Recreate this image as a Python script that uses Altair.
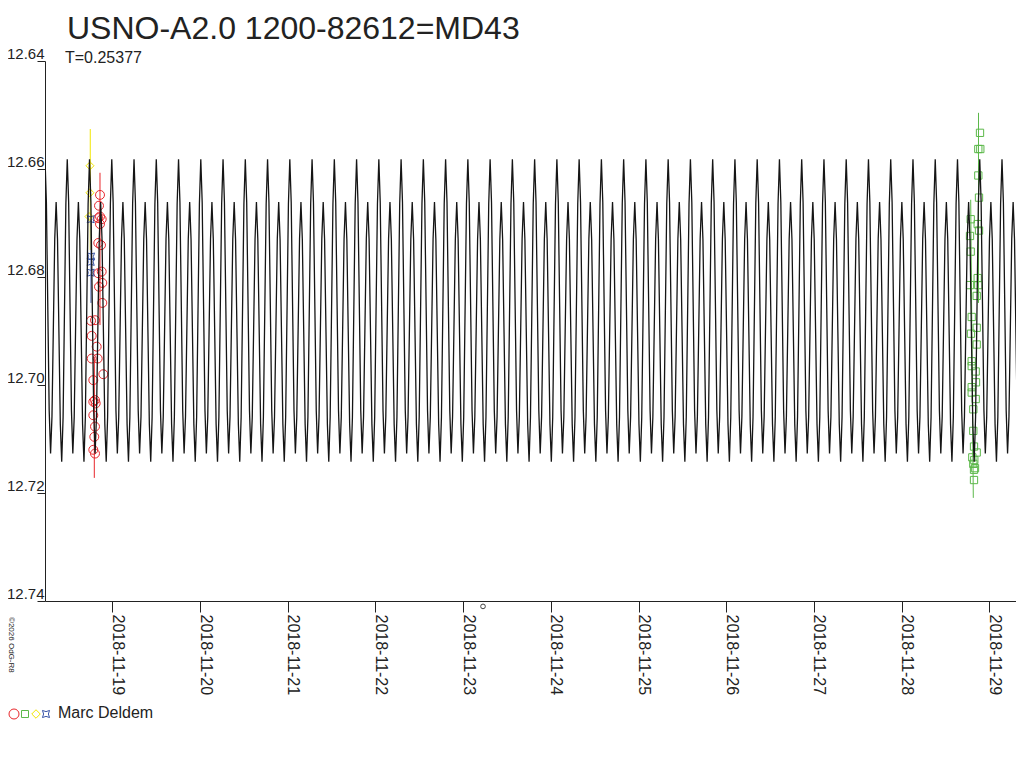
import altair as alt
import pandas as pd

# light curve elements (period from the subtitle, epoch = primary minimum)
period = 0.25377
epoch = 2458440.923
jd_min, jd_max = 2458440.7326, 2458451.8044
jd_day0 = 2458441.5  # 2018-11-19 00:00 UT

# one cycle of the fitted curve, phase from primary minimum
phase_pts = [0, 0.0625, 0.125, 0.1875, 0.25, 0.3125, 0.375, 0.4375,
             0.5, 0.5625, 0.625, 0.6875, 0.75, 0.8125, 0.875, 0.9375]
phase_mag = [12.7142, 12.7060, 12.6862, 12.6664, 12.6582, 12.6662, 12.6855, 12.7047,
             12.7127, 12.7059, 12.6894, 12.6729, 12.6661, 12.6731, 12.6902, 12.7072]

# observations (JD, V mag)
red_jd = [2458441.3597, 2458441.3483, 2458441.3597, 2458441.3404, 2458441.3791,
          2458441.3597, 2458441.3404, 2458441.3712, 2458441.3791, 2458441.3404,
          2458441.3860, 2458441.3483, 2458441.3860, 2458441.3027, 2458441.2571,
          2458441.2651, 2458441.3221, 2458441.2651, 2458441.3335, 2458441.3974,
          2458441.2834, 2458441.3027, 2458441.2834, 2458441.3107, 2458441.2834,
          2458441.3027, 2458441.2948, 2458441.2834, 2458441.3027]
red_mag = [12.6648, 12.6668, 12.6688, 12.6691, 12.6693,
           12.6702, 12.6737, 12.6741, 12.6790, 12.6793,
           12.6811, 12.6818, 12.6848, 12.6880, 12.6881,
           12.6909, 12.6929, 12.6951, 12.6951, 12.6980,
           12.6991, 12.7028, 12.7031, 12.7034, 12.7056,
           12.7077, 12.7096, 12.7120, 12.7127]

yellow_jd = [2458441.2457, 2458441.2457, 2458441.2343]
yellow_mag = [12.6594, 12.6644, 12.6688]

blue_jd = [2458441.2537, 2458441.2571, 2458441.2537, 2458441.2537]
blue_mag = [12.6693, 12.6762, 12.6772, 12.6792]

green_jd = [2458451.3940, 2458451.3746, 2458451.3974, 2458451.3746, 2458451.3826,
            2458451.2879, 2458451.3677, 2458451.3826, 2458451.2799, 2458451.2879,
            2458451.3677, 2458451.2799, 2458451.3746, 2458451.3563, 2458451.2993,
            2458451.3563, 2458451.2913, 2458451.3563, 2458451.2993, 2458451.2993,
            2458451.3449, 2458451.3483, 2458451.2993, 2458451.2993, 2458451.3449,
            2458451.3176, 2458451.3176, 2458451.3255, 2458451.3563, 2458451.3062,
            2458451.3290, 2458451.3176, 2458451.3369, 2458451.3255, 2458451.3255]
green_mag = [12.6533, 12.6563, 12.6563, 12.6612, 12.6653,
             12.6693, 12.6702, 12.6714, 12.6724, 12.6753,
             12.6802, 12.6815, 12.6815, 12.6835, 12.6874,
             12.6894, 12.6905, 12.6925, 12.6956, 12.6965,
             12.6975, 12.6995, 12.7004, 12.7014, 12.7026,
             12.7045, 12.7085, 12.7114, 12.7125, 12.7134,
             12.7139, 12.7146, 12.7154, 12.7157, 12.7176]

# vertical range lines per series
seg_color = ["#f2e600", "#3a55a8", "#e8262b", "#e8262b", "#5cb84a", "#5cb84a"]
seg_jd1 = [2458441.2486, 2458441.2571, 2458441.3597, 2458441.2948, 2458451.3769, 2458451.2879]
seg_jd2 = [2458441.2486, 2458441.2571, 2458441.3597, 2458441.2948, 2458451.3769, 2458451.3176]
seg_mag1 = [12.6526, 12.6693, 12.6607, 12.6948, 12.6496, 12.6657]
seg_mag2 = [12.6750, 12.6848, 12.6889, 12.7172, 12.6848, 12.7209]

stray_jd = [2458445.7269]
stray_mag = [12.7410]

day_ticks = [jd_day0 + d for d in range(11)]

# build the repeated model curve over the plotted interval
n0 = int((jd_min - epoch) // period) - 1
n1 = int((jd_max - epoch) // period) + 2
curve = pd.DataFrame(
    [{"jd": epoch + (n + ph) * period, "mag": m}
     for n in range(n0, n1) for ph, m in zip(phase_pts, phase_mag)]
)

FONT = "Liberation Sans"
INK = "#222222"
RED, GREEN, YELLOW, BLUE = "#e8262b", "#5cb84a", "#f2e600", "#3a55a8"
STAR = "M-1,-1Q0,-0.35,1,-1Q0.35,0,1,1Q0,0.35,-1,1Q-0.35,0,-1,-1Z"

x_enc = alt.X(
    "jd:Q", title=None,
    scale=alt.Scale(domain=[jd_min, jd_max], nice=False, zero=False),
    axis=alt.Axis(
        values=day_ticks,
        labelExpr="utcFormat((datum.value - 2440587.5) * 86400000, '%Y-%m-%d')",
        labelAngle=90, labelAlign="left", labelBaseline="alphabetic",
        labelPadding=2, tickSize=11, labelFontSize=16,
        labelOverlap=False, labelFlush=False, grid=False,
    ),
)
y_enc = alt.Y(
    "mag:Q", title=None,
    scale=alt.Scale(domain=[12.64, 12.74], reverse=True, nice=False, zero=False),
    axis=alt.Axis(
        values=[12.64, 12.66, 12.68, 12.70, 12.72, 12.74], format=".2f",
        tickSize=8, labelPadding=-7, labelOffset=-3, labelBaseline="alphabetic",
        labelFontSize=15, grid=False,
    ),
)


def obs_layer(jd, mag, shape, color, size):
    df = pd.DataFrame({"jd": jd, "mag": mag})
    return alt.Chart(df).mark_point(
        shape=shape, color=color, filled=False, size=size, opacity=1, strokeWidth=1
    ).encode(x=x_enc, y=y_enc)


segs = pd.DataFrame({"jd": seg_jd1, "jd2": seg_jd2, "mag": seg_mag1,
                     "mag2": seg_mag2, "c": seg_color})
seg_layer = alt.Chart(segs).mark_rule(strokeWidth=1).encode(
    x=x_enc, x2="jd2:Q", y=y_enc, y2="mag2:Q", color=alt.Color("c:N", scale=None)
)

curve_layer = alt.Chart(curve).mark_line(color="#151515", strokeWidth=1.3, clip=True).encode(
    x=x_enc, y=y_enc, order="jd:Q"
)

stray = obs_layer(stray_jd, stray_mag, "circle", "#444444", 22)

one = pd.DataFrame({"k": [0]})


def label(text, x, y, size, **kw):
    return alt.Chart(one).mark_text(
        font=FONT, fontSize=size, color=INK, align="left", baseline="alphabetic", **kw
    ).encode(x=alt.value(x), y=alt.value(y), text=alt.value(text))


title = label("USNO-A2.0 1200-82612=MD43", 22, -22, 32)
subtitle = label("T=0.25377", 20, 2, 16)
legend_text = label("Marc Deldem", 13, 657, 16)
copyright_text = label("\u00a92026 OdG-R8", -36, 556, 8, angle=90)

legend_syms = []
for sx, shape, color, size in [(-31, "circle", RED, 100),
                                (-20, "square", GREEN, 49),
                                (-9, "diamond", YELLOW, 72),
                                (1, STAR, BLUE, 50)]:
    legend_syms.append(
        alt.Chart(one).mark_point(shape=shape, color=color, filled=False,
                                  size=size, opacity=1, strokeWidth=1)
        .encode(x=alt.value(sx), y=alt.value(653))
    )

chart = alt.layer(
    seg_layer,
    obs_layer(red_jd, red_mag, "circle", RED, 80),
    obs_layer(green_jd, green_mag, "square", GREEN, 53),
    obs_layer(yellow_jd, yellow_mag, "diamond", YELLOW, 64),
    obs_layer(blue_jd, blue_mag, STAR, BLUE, 50),
    curve_layer,
    stray,
    title, subtitle, legend_text, copyright_text,
    *legend_syms,
).properties(
    width=971, height=540,
    autosize=alt.AutoSizeParams(type="none"),
    padding={"left": 37, "top": 53, "right": 0, "bottom": 125},
).configure_view(
    strokeWidth=0
).configure_axis(
    labelFont=FONT, labelColor=INK, domainColor=INK, tickColor=INK,
    domainWidth=1, tickWidth=1,
)

chart.save("out.html", embed_options={"renderer": "svg", "actions": False})
